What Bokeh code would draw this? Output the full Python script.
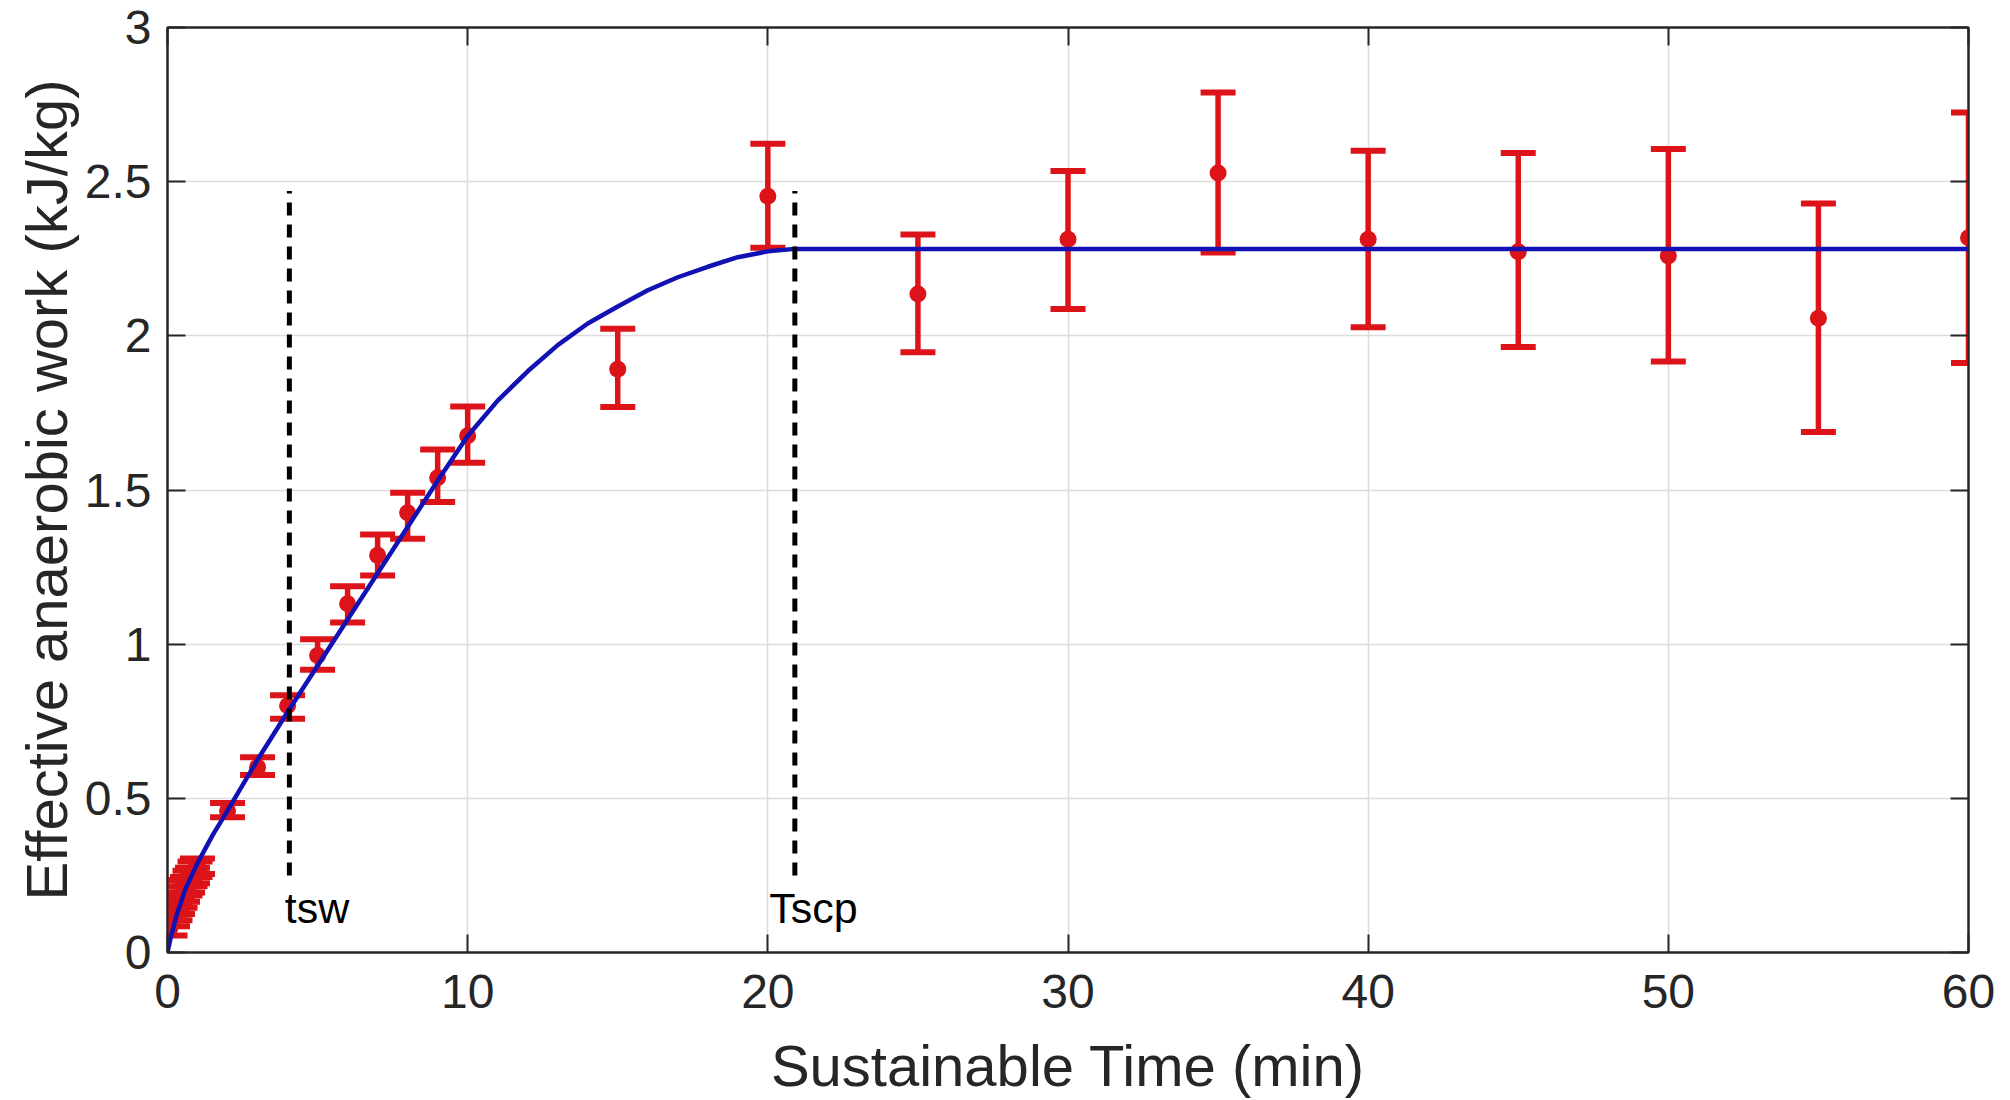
from bokeh.plotting import figure
from bokeh.models import FixedTicker, LinearAxis, Range1d, ColumnDataSource, Label
from bokeh.embed import file_html
from bokeh.resources import INLINE

# ---------------- data ----------------
time_min = [0.083, 0.167, 0.25, 0.333, 0.417, 0.5, 0.583, 0.667, 0.75, 0.833, 0.917, 1.0,
            2, 3, 4, 5, 6, 7, 8, 9, 10, 15, 20, 25, 30, 35, 40, 45, 50, 55, 60]
work_mean = [0.08, 0.11, 0.13, 0.15, 0.17, 0.19, 0.21, 0.22, 0.24, 0.25, 0.27, 0.28,
             0.46, 0.601, 0.800, 0.963, 1.131, 1.288, 1.426, 1.540, 1.676, 1.892,
             2.453, 2.136, 2.313, 2.528, 2.313, 2.273, 2.259, 2.057, 2.318]
work_lower = [0.055, 0.085, 0.105, 0.125, 0.145, 0.165, 0.185, 0.195, 0.215, 0.225, 0.245, 0.255,
              0.439, 0.576, 0.758, 0.917, 1.070, 1.223, 1.342, 1.461, 1.588, 1.769,
              2.286, 1.947, 2.087, 2.270, 2.028, 1.964, 1.917, 1.688, 1.912]
work_upper = [0.105, 0.135, 0.155, 0.175, 0.195, 0.215, 0.235, 0.245, 0.265, 0.275, 0.295, 0.305,
              0.485, 0.633, 0.834, 1.016, 1.188, 1.356, 1.491, 1.631, 1.771, 2.023,
              2.623, 2.329, 2.535, 2.789, 2.600, 2.593, 2.606, 2.429, 2.724]

fit_x = [0, 0.1, 0.3, 0.6, 1.0, 1.5, 2, 3, 4, 5, 6, 7, 8, 9, 10, 11, 12, 13, 14, 15,
         16, 17, 18, 19, 20, 20.9, 60]
fit_y = [0, 0.045, 0.12, 0.207, 0.29, 0.38, 0.46, 0.625, 0.78, 0.93, 1.08, 1.23, 1.38, 1.53,
         1.675, 1.79, 1.885, 1.97, 2.04, 2.095, 2.148, 2.19, 2.224, 2.255, 2.274, 2.282, 2.282]

marker_names = ["tsw", "Tscp"]
marker_times = [4.06, 20.9]
marker_line_bottom = 0.25
marker_line_top = 2.47

x_ticks = [0, 10, 20, 30, 40, 50, 60]
y_ticks = [0, 0.5, 1, 1.5, 2, 2.5, 3]
y_tick_labels = ["0", "0.5", "1", "1.5", "2", "2.5", "3"]

# ---------------- styling ----------------
FONT = "Liberation Sans"
AX = "#262626"
RED = "#DC1419"
BLUE = "#1212B4"

p = figure(frame_width=1801, frame_height=925,
           x_range=Range1d(0, 60), y_range=Range1d(0, 3),
           output_backend="svg", toolbar_location=None,
           min_border_left=167, min_border_top=27, min_border_right=34, min_border_bottom=140)
p.background_fill_color = "white"
p.border_fill_color = "white"
p.outline_line_color = AX
p.outline_line_width = 2

p.xaxis.ticker = FixedTicker(ticks=x_ticks)
p.yaxis.ticker = FixedTicker(ticks=y_ticks)
p.yaxis.major_label_overrides = {t: l for t, l in zip(y_ticks, y_tick_labels)}
p.xgrid.ticker = FixedTicker(ticks=x_ticks)
p.ygrid.ticker = FixedTicker(ticks=y_ticks)
for g in (p.xgrid, p.ygrid):
    g.grid_line_color = "#DCDCDC"
    g.grid_line_width = 1.5

for ax in (p.xaxis, p.yaxis):
    ax.axis_line_color = AX
    ax.axis_line_width = 2
    ax.major_tick_line_color = AX
    ax.major_tick_line_width = 2
    ax.major_tick_in = 18
    ax.major_tick_out = 0
    ax.minor_tick_line_color = None
    ax.major_label_text_font = FONT
    ax.major_label_text_font_size = "48px"
    ax.major_label_text_color = AX
    ax.axis_label_text_font = FONT
    ax.axis_label_text_font_size = "58px"
    ax.axis_label_text_font_style = "normal"
    ax.axis_label_text_color = AX

p.xaxis.axis_label = "Sustainable Time (min)"
p.yaxis.axis_label = "Effective anaerobic work (kJ/kg)"
p.xaxis.major_label_standoff = 22
p.yaxis.major_label_standoff = 16
p.xaxis.axis_label_standoff = 22
p.yaxis.axis_label_standoff = 3

# mirrored ticks on top and right (MATLAB box)
top_ax = LinearAxis(ticker=FixedTicker(ticks=x_ticks))
right_ax = LinearAxis(ticker=FixedTicker(ticks=y_ticks))
for ax, ticks in ((top_ax, x_ticks), (right_ax, y_ticks)):
    ax.axis_line_color = AX
    ax.axis_line_width = 2
    ax.major_tick_line_color = AX
    ax.major_tick_line_width = 2
    ax.major_tick_in = 18
    ax.major_tick_out = 0
    ax.minor_tick_line_color = None
    ax.major_label_overrides = {t: "" for t in ticks}
    ax.major_label_text_font_size = "1px"
    ax.major_label_standoff = 0
p.add_layout(top_ax, "above")
p.add_layout(right_ax, "right")

# ---------------- error bars ----------------
src = ColumnDataSource(dict(t=time_min, m=work_mean, lo=work_lower, hi=work_upper))
p.segment(x0="t", y0="lo", x1="t", y1="hi", source=src, line_color=RED, line_width=5.5)
p.rect(x="t", y="lo", width=35, height=6, width_units="screen", height_units="screen",
       source=src, fill_color=RED, line_color=None)
p.rect(x="t", y="hi", width=35, height=6, width_units="screen", height_units="screen",
       source=src, fill_color=RED, line_color=None)
p.scatter(x="t", y="m", source=src, size=17, marker="circle",
          fill_color=RED, line_color=None)

# ---------------- fitted curve ----------------
p.line(fit_x, fit_y, line_color=BLUE, line_width=4.5)

# ---------------- tsw / Tscp markers ----------------
p.segment(x0=marker_times, y0=[marker_line_bottom] * 2, x1=marker_times,
          y1=[marker_line_top] * 2, line_color="black", line_width=5, line_dash="13 9")
for name, t in zip(marker_names, marker_times):
    p.add_layout(Label(x=t - 0.15 if name == "tsw" else t - 0.85, y=0.145, text=name,
                       text_font=FONT, text_font_size="43px", text_color="black",
                       text_baseline="alphabetic", text_align="left"))

open("out.html", "w").write(file_html(p, INLINE))
